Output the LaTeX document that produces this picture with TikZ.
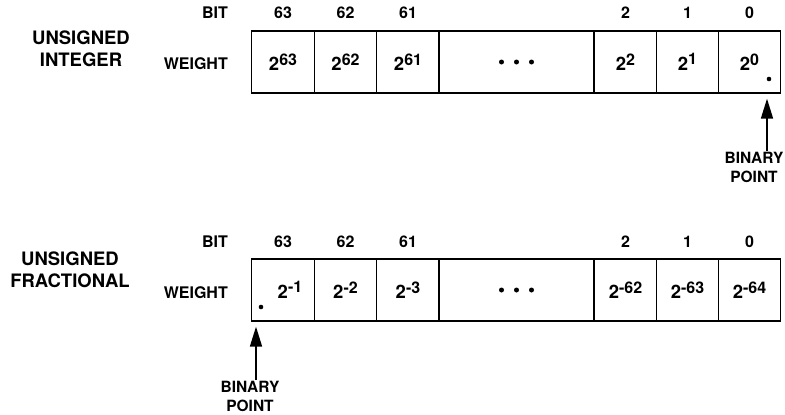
\documentclass[tikz,border=0pt]{standalone}
\usepackage{fontspec}
\setmainfont{TeX Gyre Heros}
\usetikzlibrary{arrows.meta}
\newcommand{\pw}[1]{2\raisebox{5.5pt}{\fontsize{16}{16}\selectfont #1}}

\begin{document}
\begin{tikzpicture}[x=1pt, y=-1pt,
    cell/.style={draw, line width=1.3pt, minimum height=62pt, minimum width=62.6pt, inner sep=0pt, font=\bfseries\fontsize{18.5}{18}\selectfont},
    lbl/.style={inner sep=1pt, font=\bfseries\fontsize{16}{18}\selectfont},
    title/.style={align=center, inner sep=1pt, font=\bfseries\fontsize{18.5}{22}\selectfont},
    bpt/.style={align=center, inner sep=1pt, font=\bfseries\fontsize{15.5}{19}\selectfont},
    ptr/.style={line width=1.7pt, -{Triangle[length=20pt,width=12pt]}}]
    \useasboundingbox (0,0) rectangle (785,415);
    \coordinate (rowu) at (0,13);
    \coordinate (rowf) at (0,242);

    % Số nguyên không dấu
    \node[title] (tu) at (81,49) {UNSIGNED\\INTEGER};
    \node[lbl, anchor=east] (bitu) at (229,13) {BIT};
    \node[lbl, anchor=east] (wtu) at (229,64) {WEIGHT};
    \foreach \n/\cx/\e in {1/283/63, 2/345.5/62, 3/408/61, 5/625.5/2, 6/687.5/1, 7/749.5/0} {
        \node[cell] (u\n) at (\cx,62) {\pw{\e}};
        \node[lbl] (bu\n) at (u\n |- rowu) {\e};
    }
    \node[cell, minimum width=155pt] (u4) at (516.5,62) {};
    \foreach \d in {-15,0,15}
        \fill ([xshift=\d pt]u4.center) circle (2.5pt);

    % Dấu chấm nhị phân (trên)
    \fill ([shift={(19.5,17)}]u7.center) circle (2.3pt);
    \coordinate (tip1) at ([xshift=17.5pt,yshift=-5pt]u7.south);
    \node[bpt] (bp1) at (754,167) {BINARY\\POINT};
    \draw[ptr] (bp1.north -| tip1) -- (tip1);

    % Số thập phân không dấu
    \node[title] (tf) at (70,270) {UNSIGNED\\FRACTIONAL};
    \node[lbl, anchor=east] (bitf) at (229,242) {BIT};
    \node[lbl, anchor=east] (wtf) at (229,293) {WEIGHT};
    \foreach \n/\cx/\b/\e in {2/345.5/62/-2, 3/408/61/-3, 5/625.5/2/-62, 6/687.5/1/-63, 7/749.5/0/-64} {
        \node[cell] (f\n) at (\cx,290) {\pw{\e}};
        \node[lbl] (bf\n) at (f\n |- rowf) {\b};
    }
    \node[cell] (f1) at (283,290) {\hspace{14pt}\pw{-1}};
    \node[lbl] (bf1) at (f1 |- rowf) {63};
    \node[cell, minimum width=155pt] (f4) at (516.5,290) {};
    \foreach \d in {-15,0,15}
        \fill ([xshift=\d pt]f4.center) circle (2.5pt);

    % Dấu chấm nhị phân (dưới)
    \fill ([shift={(-22,17)}]f1.center) circle (2.3pt);
    \coordinate (tip2) at ([xshift=-27pt,yshift=-5pt]f1.south);
    \node[bpt] (bp2) at (250,396) {BINARY\\POINT};
    \draw[ptr] (bp2.north -| tip2) -- (tip2);
\end{tikzpicture}
\end{document}
